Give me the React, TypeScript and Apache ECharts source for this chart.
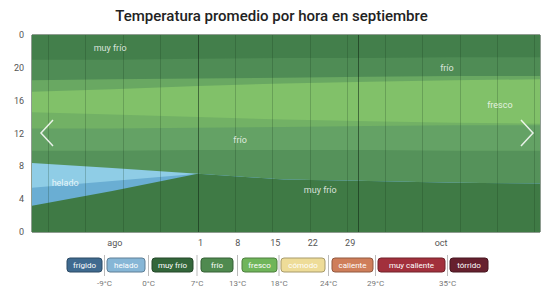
import React, { useEffect, useRef } from "react";
import * as echarts from "echarts";

// ---- data ----
const days = [-31, -16, 0, 16, 32, 48, 64];
// top boundary (hour of day) of each band, from bottom to top
const topMuyFrioNoche = [3.2, 5.0, 7.1, 6.4, 6.2, 6.0, 5.9];
const topHeladoBajo = [5.4, 6.2, 7.1, 6.4, 6.2, 6.0, 5.9];
const topHeladoAlto = [8.4, 7.8, 7.1, 6.4, 6.2, 6.0, 5.9];
const topMuyFrioAlba = [9.9, 9.9, 10.0, 10.0, 10.0, 9.9, 9.9];
const topFrioManana = [12.6, 12.6, 12.7, 12.8, 12.9, 13.0, 13.0];
const topFrescoBajo = [14.6, 14.3, 14.0, 13.7, 13.5, 13.3, 13.2];
const topFresco = [17.1, 17.4, 17.8, 18.1, 18.3, 18.5, 18.6];
const topFrioTarde = [18.5, 18.6, 18.7, 18.8, 18.9, 19.0, 19.0];
const topMuyFrioAnochecer = [21.0, 21.0, 21.1, 21.2, 21.2, 21.3, 21.3];
const topMedianoche = [24, 24, 24, 24, 24, 24, 24];

const bandTops = [
  topMuyFrioNoche,
  topHeladoBajo,
  topHeladoAlto,
  topMuyFrioAlba,
  topFrioManana,
  topFrescoBajo,
  topFresco,
  topFrioTarde,
  topMuyFrioAnochecer,
  topMedianoche,
];
const bandColors = [
  "#3f7a45",
  "#6aaed3",
  "#8fcde6",
  "#55925a",
  "#64a265",
  "#72b165",
  "#81c169",
  "#69a862",
  "#4f8c55",
  "#437f4b",
];

const xTickValues = [-15.5, 0.5, 7.5, 14.5, 21.5, 28.5, 45.5];
const xTickLabels = ["ago", "1", "8", "15", "22", "29", "oct"];
const weekLines = [-28, -21, -14, -7, 7, 14, 21, 28, 35, 42, 49, 56, 63];
const monthLines = [0, 30];

const regionLabels = [
  { name: "muy frío", value: [-16.4, 22.4] },
  { name: "frío", value: [46.6, 20.0] },
  { name: "fresco", value: [56.5, 15.5] },
  { name: "frío", value: [7.9, 11.2] },
  { name: "helado", value: [-24.8, 6.0] },
  { name: "muy frío", value: [22.9, 5.1] },
];

const legendNames = [
  "frígido",
  "helado",
  "muy frío",
  "frío",
  "fresco",
  "cómodo",
  "caliente",
  "muy caliente",
  "tórrido",
];
const legendColors = [
  "#3f6a8f",
  "#86b6d6",
  "#33663a",
  "#4f8a4f",
  "#6fb55a",
  "#eedc98",
  "#cf7e5a",
  "#a2303c",
  "#66202e",
];
const thresholdLabels = ["-9°C", "0°C", "7°C", "13°C", "18°C", "24°C", "29°C", "35°C"];

// ---- layout ----
const legendBoxes = [
  [67, 102],
  [107, 145],
  [152, 193],
  [201, 233],
  [242, 277],
  [281, 325],
  [332, 373],
  [378, 445],
  [450, 488],
];
const FONT = "Roboto, 'Open Sans', 'DejaVu Sans', sans-serif";

function darker(hex: string, f: number) {
  const n = parseInt(hex.slice(1), 16);
  const r = Math.round(((n >> 16) & 255) * f);
  const g = Math.round(((n >> 8) & 255) * f);
  const b = Math.round((n & 255) * f);
  return `rgb(${r},${g},${b})`;
}

export default function App() {
  const ref = useRef<HTMLDivElement>(null);
  useEffect(() => {
    if (!ref.current) return;
    const chart = echarts.init(ref.current, null, { renderer: "svg" });

    const series: any[] = [];
    // draw from the highest boundary down so each band paints over the one above
    for (let i = bandTops.length - 1; i >= 0; i--) {
      series.push({
        type: "line",
        name: "band" + i,
        symbol: "none",
        silent: true,
        lineStyle: { width: 0 },
        areaStyle: { color: bandColors[i], opacity: 1, origin: "start" },
        data: days.map((d, k) => [d, bandTops[i][k]]),
        z: 1,
      });
    }
    series.push({
      type: "line",
      name: "grid",
      data: [],
      symbol: "none",
      silent: true,
      markLine: {
        silent: true,
        symbol: "none",
        label: { show: false },
        data: [
          ...weekLines.map((x) => ({
            xAxis: x,
            lineStyle: { color: "rgba(20,50,25,0.22)", width: 1, type: "solid" },
          })),
          ...monthLines.map((x) => ({
            xAxis: x,
            lineStyle: { color: "rgba(15,35,18,0.55)", width: 1, type: "solid" },
          })),
        ],
      },
      z: 3,
    });
    series.push({
      type: "scatter",
      name: "labels",
      symbolSize: 0,
      silent: true,
      data: regionLabels,
      label: {
        show: true,
        position: "inside",
        formatter: "{b}",
        color: "#ffffff",
        fontSize: 9,
        fontFamily: FONT,
      },
      z: 5,
    });

    const graphics: any[] = [];
    legendBoxes.forEach(([x0, x1], i) => {
      graphics.push({
        type: "rect",
        shape: { x: x0, y: 258, width: x1 - x0, height: 14, r: 3 },
        style: { fill: legendColors[i], stroke: darker(legendColors[i], 0.7), lineWidth: 1 },
      });
      graphics.push({
        type: "text",
        x: (x0 + x1) / 2,
        y: 265,
        style: {
          text: legendNames[i],
          fill: "#ffffff",
          font: `8px ${FONT}`,
          align: "center",
          verticalAlign: "middle",
          textAlign: "center",
          textVerticalAlign: "middle",
        },
      });
    });
    thresholdLabels.forEach((t, i) => {
      const x = (legendBoxes[i][1] + legendBoxes[i + 1][0]) / 2;
      graphics.push({
        type: "line",
        shape: { x1: x, y1: 255, x2: x, y2: 276 },
        style: { stroke: "#bbbbbb", lineWidth: 1 },
      });
      graphics.push({
        type: "text",
        x,
        y: 283,
        style: {
          text: t,
          fill: "#777777",
          font: `8px ${FONT}`,
          align: "center",
          verticalAlign: "middle",
          textAlign: "center",
          textVerticalAlign: "middle",
        },
      });
    });
    graphics.push({
      type: "polyline",
      shape: { points: [[53, 120], [41, 133], [53, 146]] },
      style: { stroke: "rgba(255,255,255,0.85)", lineWidth: 1.5, fill: null },
      z: 10,
    });
    graphics.push({
      type: "polyline",
      shape: { points: [[521, 120], [533, 133], [521, 146]] },
      style: { stroke: "rgba(255,255,255,0.85)", lineWidth: 1.5, fill: null },
      z: 10,
    });

    chart.setOption({
      animation: false,
      title: {
        text: "Temperatura promedio por hora en septiembre",
        left: "center",
        top: 8,
        padding: 0,
        textStyle: { fontSize: 15, fontWeight: 500, color: "#222", fontFamily: FONT },
      },
      grid: {
        left: 32,
        right: 3,
        top: 35,
        bottom: 56,
        show: true,
        borderColor: "#1e3a22",
        borderWidth: 1,
        backgroundColor: "transparent",
      },
      xAxis: {
        type: "value",
        min: -31,
        max: 64,
        axisLine: { show: false },
        axisTick: { show: false },
        splitLine: { show: false },
        axisLabel: {
          customValues: xTickValues,
          formatter: (v: number) => {
            const i = xTickValues.indexOf(v);
            return i >= 0 ? xTickLabels[i] : "";
          },
          color: "#555",
          fontSize: 9,
          margin: 6,
          fontFamily: FONT,
        },
      },
      yAxis: {
        type: "value",
        min: 0,
        max: 24,
        interval: 4,
        axisLine: { show: false },
        axisTick: { show: false },
        splitLine: { show: false },
        axisLabel: {
          formatter: (v: number) => (v === 24 ? "0" : String(v)),
          color: "#555",
          fontSize: 9,
          margin: 8,
          fontFamily: FONT,
        },
      },
      graphic: graphics,
      series,
    });
    return () => chart.dispose();
  }, []);
  return (
    <div
      ref={ref}
      style={{ position: "absolute", left: 0, top: 0, width: 543, height: 288, background: "#fff" }}
    />
  );
}
